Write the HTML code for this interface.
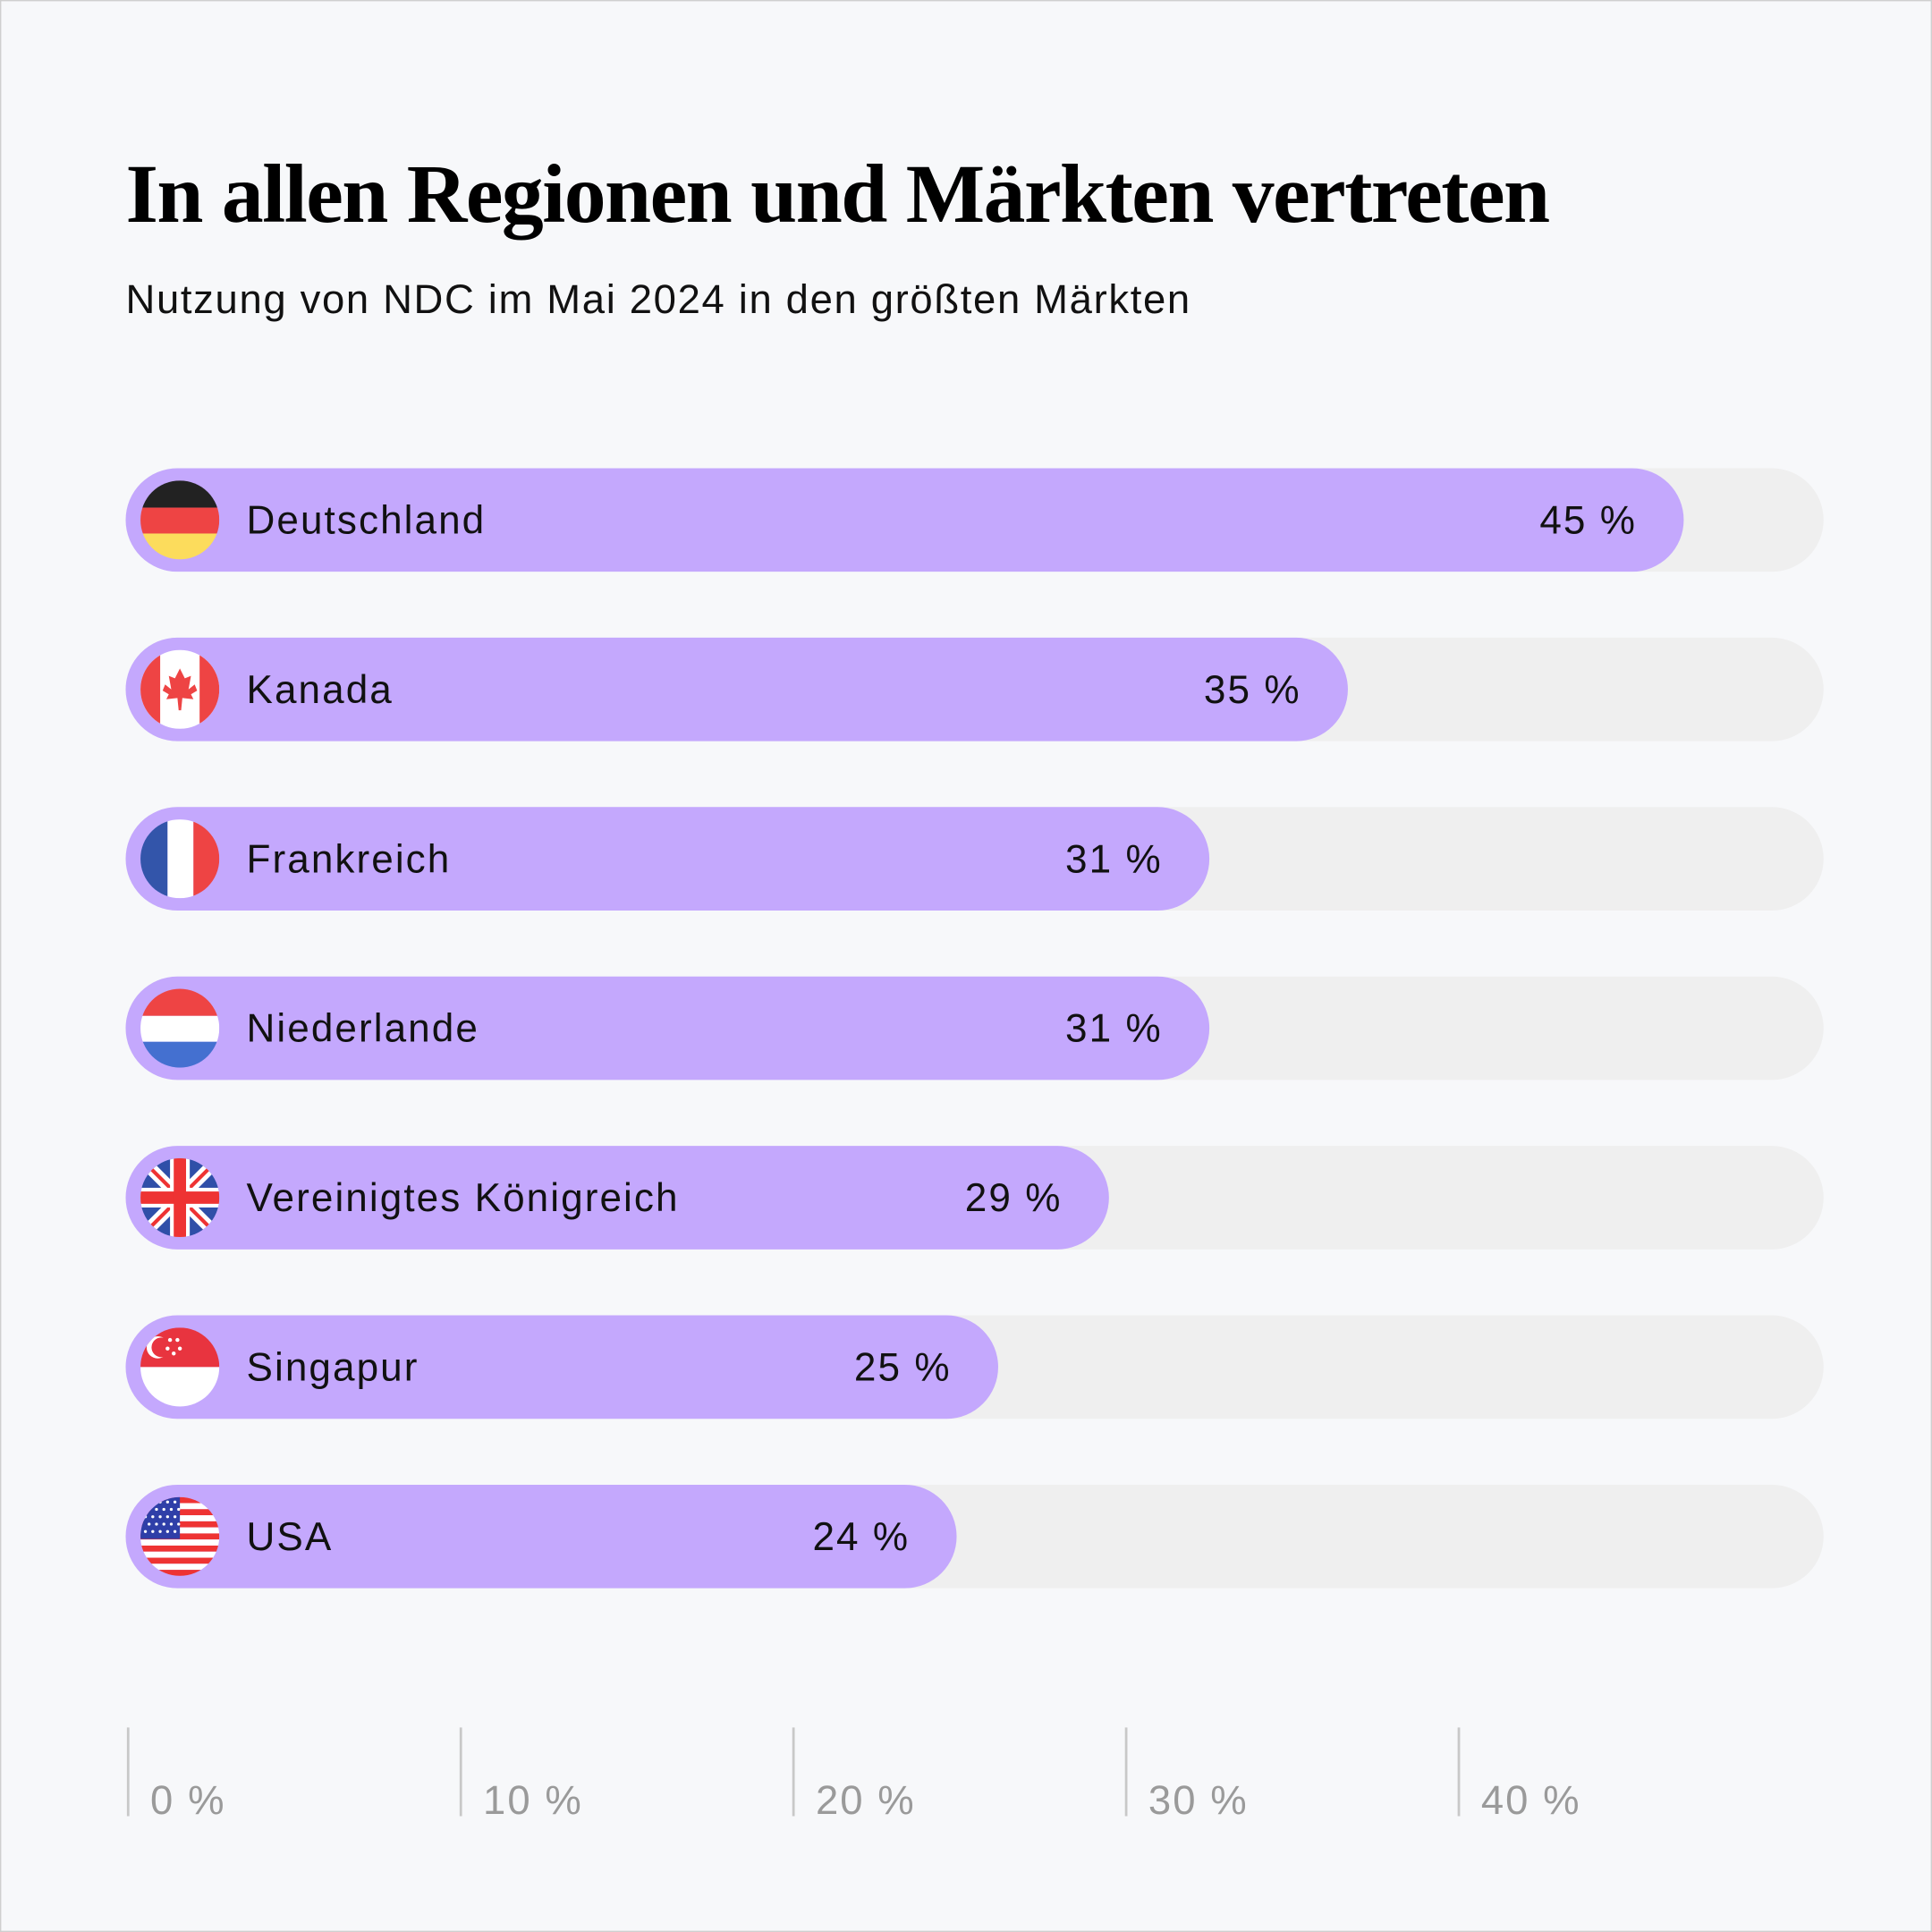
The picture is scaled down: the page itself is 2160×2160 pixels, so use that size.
<!DOCTYPE html>
<html><head><meta charset="utf-8"><style>
html,body{margin:0;padding:0;background:#f7f8fa;}
svg{display:block;}
</style></head><body>
<svg id="chart" width="2160" height="2160" viewBox="0 0 1568 1568" xmlns="http://www.w3.org/2000/svg">
<defs>
<clipPath id="fc"><circle cx="0" cy="0" r="32"/></clipPath>
</defs>
<rect x="0.5" y="0.5" width="1567" height="1567" fill="#f7f8fa" stroke="#cfcfcf" stroke-width="1"/>
<text x="102" y="180" font-family="Liberation Serif, serif" font-weight="bold" font-size="68" letter-spacing="-1.1" fill="#000">In allen Regionen und Märkten vertreten</text>
<text x="102" y="254" font-family="Liberation Sans, sans-serif" font-size="33" letter-spacing="1.2" fill="#111">Nutzung von NDC im Mai 2024 in den größten Märkten</text>
<g id="bars"></g>
<g id="axis"></g>
</svg>
<script>
const categories = ["Deutschland","Kanada","Frankreich","Niederlande","Vereinigtes Königreich","Singapur","USA"];
const values = [45.0, 35.3, 31.3, 31.3, 28.4, 25.2, 24.0];
const labels = ["45 %","35 %","31 %","31 %","29 %","25 %","24 %"];
const flags = ["de","ca","fr","nl","gb","sg","us"];
const ticks = [0,10,20,30,40];
const tickLabels = ["0 %","10 %","20 %","30 %","40 %"];

const NS="http://www.w3.org/2000/svg";
const x0=102, pxPerPt=28.1, trackEnd=1480, rowTop=380, rowStep=137.5, barH=84;
const xs=v=>x0+v*pxPerPt;
const xt=v=>104+v*27;
const ys=i=>rowTop+i*rowStep;
function mk(tag,attrs,parent){const e=document.createElementNS(NS,tag);for(const k in attrs)e.setAttribute(k,attrs[k]);parent.appendChild(e);return e;}

function drawFlag(code,g){
  const c=mk('g',{'clip-path':'url(#fc)'},g);
  const R=(x,y,w,h,f)=>mk('rect',{x:x,y:y,width:w,height:h,fill:f},c);
  if(code==='de'){R(-32,-32,64,22,'#222');R(-32,-10,64,21,'#ee4444');R(-32,11,64,21,'#fcdc5c');}
  else if(code==='ca'){R(-32,-32,64,64,'#fff');R(-32,-32,16,64,'#ee4444');R(16,-32,16,64,'#ee4444');
    mk('path',{d:'M0,-17 L4,-9 L9,-11 L7,0 L12,-4 L14,1 L9,4 L11,8 L2,7 L1,17 L-1,17 L-2,7 L-11,8 L-9,4 L-14,1 L-12,-4 L-7,0 L-9,-11 L-4,-9 Z',fill:'#ee4444'},c);}
  else if(code==='fr'){R(-32,-32,22,64,'#3355aa');R(-10,-32,21,64,'#fff');R(11,-32,21,64,'#ee4444');}
  else if(code==='nl'){R(-32,-32,64,22,'#ee4444');R(-32,-10,64,21,'#fff');R(-32,11,64,21,'#4470d0');}
  else if(code==='gb'){R(-32,-32,64,64,'#2f4fa8');
    mk('path',{d:'M-32,-32 L32,32 M32,-32 L-32,32',stroke:'#fff','stroke-width':10},c);
    mk('path',{d:'M-32,-32 L32,32 M32,-32 L-32,32',stroke:'#e33','stroke-width':3},c);
    R(-32,-8,64,16,'#fff');R(-8,-32,16,64,'#fff');R(-32,-5,64,10,'#e33');R(-5,-32,10,64,'#e33');}
  else if(code==='sg'){R(-32,-32,64,32,'#e8343f');R(-32,0,64,32,'#fff');
    mk('circle',{cx:-18,cy:-16,r:9,fill:'#fff'},c);mk('circle',{cx:-15,cy:-16,r:8,fill:'#e8343f'},c);
    [[-8,-22],[-2,-22],[-10,-15],[0,-15],[-5,-11]].forEach(p=>mk('circle',{cx:p[0],cy:p[1],r:1.6,fill:'#fff'},c));}
  else if(code==='us'){for(let k=0;k<13;k++)R(-32,-32+k*64/13,64,64/13,k%2?'#fff':'#e33');
    R(-32,-32,32,34,'#2f3fa8');
    for(let r=0;r<5;r++)for(let q=0;q<5;q++)mk('circle',{cx:-28+q*6+(r%2)*3,cy:-28+r*6,r:1.2,fill:'#fff'},c);}
}

const bars=document.getElementById('bars');
categories.forEach((cat,i)=>{
  const y=ys(i);
  const g=mk('g',{},bars);
  
  
  const t=mk('rect',{x:x0,y:y,width:trackEnd-x0,height:barH,rx:42,fill:'#efefef'},g);
  
  
  const b=mk('rect',{x:x0,y:y,width:xs(values[i])-x0,height:barH,rx:42,fill:'#c4a8fd'},g);
  
  
  const fg=mk('g',{transform:'translate(146,'+(y+barH/2)+')'},g);
  
  
  drawFlag(flags[i],fg);
  const tl=mk('text',{x:200,y:y+barH/2+11,'font-family':'Liberation Sans, sans-serif','font-size':32,'letter-spacing':1.5,fill:'#111'},g);
  tl.textContent=cat;
  
  
  const vl=mk('text',{x:xs(values[i])-38,y:y+barH/2+11,'text-anchor':'end','font-family':'Liberation Sans, sans-serif','font-size':32,'letter-spacing':1.5,fill:'#111'},g);
  vl.textContent=labels[i];
  
  
});

const axis=document.getElementById('axis');
ticks.forEach((tv,i)=>{
  const x=xt(tv);
  const l=mk('line',{x1:x,x2:x,y1:1402,y2:1474,stroke:'#c8c8c8','stroke-width':2},axis);
  
  
  const t=mk('text',{x:x+18,y:1472,'font-family':'Liberation Sans, sans-serif','font-size':33,'letter-spacing':1.5,fill:'#9a9a9a'},axis);
  t.textContent=tickLabels[i];
  
  
});
</script>
</body></html>
